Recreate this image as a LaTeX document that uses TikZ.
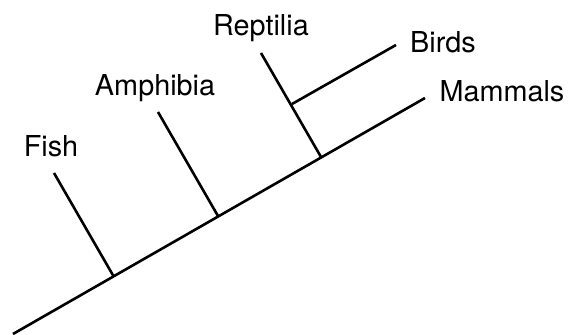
\documentclass[tikz,border=0pt]{standalone}
\usepackage{fontspec}
\setmainfont{TeX Gyre Heros}

\tikzset{
	taxon/.style={anchor=base, inner sep=0pt, font=\fontsize{14.4}{17}\selectfont},
	clade/.style={line width=1.3pt, line cap=butt}
}

\begin{document}
\begin{tikzpicture}[x=0.5pt, y=-0.5pt]
		\useasboundingbox (0,0) rectangle (569,335);
		% main stem and junctions
		\coordinate (root) at (13,334);
		\coordinate (mammalsend) at (425,98);
		\coordinate (fishjn) at (114,277);
		\coordinate (amphjn) at (218,216);
		\coordinate (reptjn) at (321,157);
		\coordinate (birdsjn) at (292,104);
		% branch tips
		\coordinate (fishend) at (54,173);
		\coordinate (amphend) at (158,112);
		\coordinate (reptend) at (261,53);
		\coordinate (birdsend) at (396,45);
		% labels
		\node[taxon] (fish) at (51,157) {Fish};
		\node[taxon] (amphibia) at (155,96) {Amphibia};
		\node[taxon] (reptilia) at (261,36) {Reptilia};
		\node[taxon] (birds) at (443,53) {Birds};
		\node[taxon] (mammals) at (502,102) {Mammals};
		\draw[clade] (root) -- (mammalsend);
		\draw[clade] (fishjn) -- (fishend);
		\draw[clade] (amphjn) -- (amphend);
		\draw[clade] (reptjn) -- (reptend);
		\draw[clade] (birdsjn) -- (birdsend);
	\end{tikzpicture}
\end{document}
